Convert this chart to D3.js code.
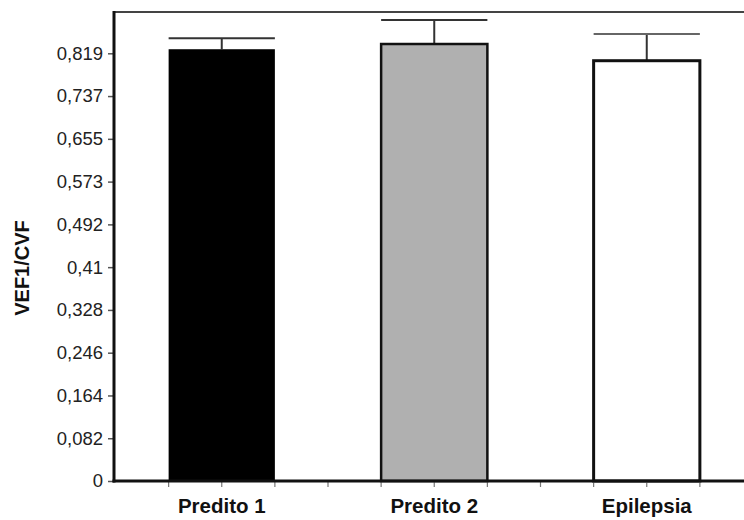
<!DOCTYPE html>
<html>
<head>
<meta charset="utf-8">
<script src="https://cdn.jsdelivr.net/npm/d3@7/dist/d3.min.js"></script>
<style>
  html, body { margin: 0; padding: 0; background: #fff; }
  svg { display: block; }
</style>
</head>
<body>
<svg id="chart" width="744" height="520"></svg>
<script>
// ---- data ----
const categories = ["Predito 1", "Predito 2", "Epilepsia"];
const means = [0.827, 0.837, 0.805];
const errors = [0.021, 0.046, 0.051];
const fills = ["#000000", "#b0b0b0", "#ffffff"];
const yTickValues = [0, 0.08192, 0.16384, 0.24576, 0.32768, 0.4096, 0.49152, 0.57344, 0.65536, 0.73728, 0.8192];
const yTickLabels = ["0", "0,082", "0,164", "0,246", "0,328", "0,41", "0,492", "0,573", "0,655", "0,737", "0,819"];
const yMax = 0.8983;
const yTitle = "VEF1/CVF";

// ---- layout ----
const svg = d3.select("#chart");
const plotLeft = 115.5, plotTop = 12, plotBottom = 481;
const x = d3.scaleBand().domain(categories).range([plotLeft, plotLeft + 3 * 212.5]).paddingInner(0.5).paddingOuter(0.25);
const y = d3.scaleLinear().domain([0, yMax]).range([plotBottom, plotTop]);
const bw = x.bandwidth();
const step = x.step();

// top frame line
svg.append("line").attr("x1", 113).attr("x2", 744).attr("y1", plotTop).attr("y2", plotTop)
  .attr("stroke", "#444").attr("stroke-width", 2);

// bars
const g = svg.append("g");
categories.forEach((c, i) => {
  const x0 = x(c);
  const yTop = y(means[i]);
  const yErr = y(means[i] + errors[i]);
  g.append("line").attr("x1", x0 + bw / 2).attr("x2", x0 + bw / 2)
    .attr("y1", yTop).attr("y2", yErr).attr("stroke", "#333").attr("stroke-width", 2);
  g.append("line").attr("x1", x0).attr("x2", x0 + bw)
    .attr("y1", yErr).attr("y2", yErr).attr("stroke", i === 2 ? "#666" : "#333").attr("stroke-width", 2);
  g.append("rect").attr("x", x0).attr("y", yTop)
    .attr("width", bw).attr("height", plotBottom - yTop)
    .attr("fill", fills[i])
    .attr("stroke", i === 0 ? "none" : "#111")
    .attr("stroke-width", i === 2 ? 3 : 2.5);
});

// y axis
const yAxis = d3.axisLeft(y).tickValues(yTickValues)
  .tickFormat((d, i) => yTickLabels[i]).tickSize(6).tickPadding(5);
const ya = svg.append("g").attr("transform", `translate(${plotLeft - 1.5},0)`).call(yAxis);
ya.select(".domain").remove();
ya.selectAll(".tick line").attr("stroke", "#555").attr("stroke-width", 1.5);
ya.selectAll(".tick text").attr("font-family", "Liberation Sans, Arial, sans-serif")
  .attr("font-size", 18.5).attr("fill", "#222");
svg.append("line").attr("x1", plotLeft - 1.5).attr("x2", plotLeft - 1.5).attr("y1", plotTop - 1).attr("y2", plotBottom + 1.5)
  .attr("stroke", "#111").attr("stroke-width", 3);

// x axis
const xTicks = [];
categories.forEach(c => {
  const x0 = x(c);
  xTicks.push(x0, x0 + bw / 2, x0 + bw, x0 + bw + (step - bw) / 2);
});
svg.append("g").selectAll("line").data(xTicks.filter(v => v < 744)).join("line")
  .attr("x1", d => d).attr("x2", d => d).attr("y1", plotBottom).attr("y2", plotBottom + 6)
  .attr("stroke", "#777").attr("stroke-width", 1.2);
svg.append("line").attr("x1", plotLeft - 3).attr("x2", 744).attr("y1", plotBottom).attr("y2", plotBottom)
  .attr("stroke", "#111").attr("stroke-width", 3);
svg.append("g").selectAll("text").data(categories).join("text")
  .attr("x", d => x(d) + bw / 2).attr("y", 513)
  .attr("text-anchor", "middle")
  .attr("font-family", "Liberation Sans, Arial, sans-serif").attr("font-weight", "bold")
  .attr("font-size", 20.5).attr("fill", "#111")
  .text(d => d);

// y title
svg.append("text").attr("transform", `translate(29,268) rotate(-90)`)
  .attr("text-anchor", "middle")
  .attr("font-family", "Liberation Sans, Arial, sans-serif").attr("font-weight", "bold")
  .attr("font-size", 20).attr("fill", "#111")
  .text(yTitle);
</script>
</body>
</html>
